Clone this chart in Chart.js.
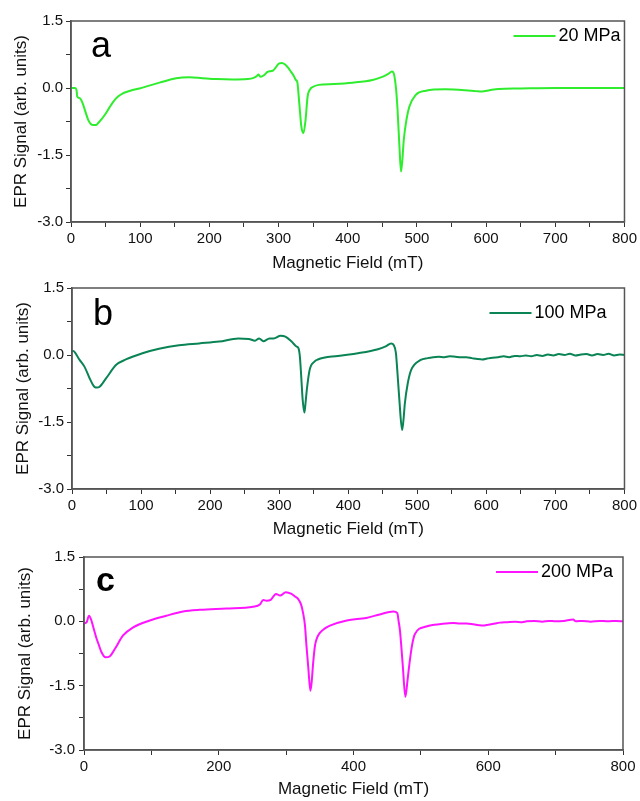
<!DOCTYPE html>
<html>
<head>
<meta charset="utf-8">
<title>EPR spectra</title>
<script src="https://cdn.jsdelivr.net/npm/chart.js@4.4.1/dist/chart.umd.min.js"></script>
<style>
  body { margin: 0; background: #fff; }
  #wrap { position: relative; width: 640px; height: 801px; overflow: hidden; }
  canvas { position: absolute; left: 0; }
</style>
</head>
<body>
<div id="wrap">
  <canvas id="chartA"></canvas>
  <canvas id="chartB"></canvas>
  <canvas id="chartC"></canvas>
</div>
<script>
// Data (field in mT, signal in arb. units)
const fieldA = [0, 6, 8, 9, 13, 17, 20, 25, 29, 32, 36, 39, 44, 49, 55, 61, 68, 75, 80, 88, 99, 128, 152, 171, 190, 210, 233, 255, 263, 268, 271, 274, 280, 284, 292, 301, 305, 309, 314, 318, 322, 325, 327, 330, 333, 336, 339, 342, 346, 349, 358, 380, 407, 436, 450, 458, 464, 467, 470, 472, 475, 477, 479, 481, 485, 489, 498, 513, 541, 570, 585, 594, 605, 618, 647, 700, 750, 800];
const valueA = [0, 0, -0.05, -0.19, -0.23, -0.35, -0.49, -0.72, -0.81, -0.83, -0.83, -0.79, -0.7, -0.6, -0.45, -0.31, -0.19, -0.12, -0.09, -0.05, -0.01, 0.12, 0.22, 0.24, 0.22, 0.2, 0.19, 0.2, 0.22, 0.26, 0.3, 0.25, 0.3, 0.36, 0.39, 0.55, 0.56, 0.53, 0.45, 0.36, 0.27, 0.18, 0.14, -0.35, -0.87, -1.01, -0.72, -0.19, -0.02, 0.02, 0.07, 0.09, 0.12, 0.18, 0.25, 0.31, 0.37, 0.3, -0.05, -0.49, -1.4, -1.87, -1.6, -1.16, -0.7, -0.42, -0.16, -0.06, -0.03, -0.05, -0.07, -0.08, -0.05, -0.02, -0.01, 0, 0, 0];

const fieldB = [0, 3.6, 11, 18, 25.5, 30, 33, 36, 40, 49.5, 64, 78, 102, 126, 155, 184, 213, 241, 256, 265, 271, 277, 286, 292, 302, 309, 318, 325, 328, 330, 332, 334, 336.5, 338, 340, 344, 351, 356, 385, 414, 443, 455, 462, 466, 469, 471, 474, 478, 480, 482, 486, 491, 505, 515, 523, 531, 539, 547, 555, 563, 571, 579, 587, 594, 601, 609, 617, 625, 633, 641, 649, 657, 665, 673, 681, 689, 697, 705, 713, 721, 729, 737, 745, 753, 761, 769, 777, 785, 793, 800];
const valueB = [0.1, 0.07, -0.11, -0.26, -0.52, -0.66, -0.72, -0.73, -0.71, -0.52, -0.22, -0.1, 0.04, 0.14, 0.22, 0.26, 0.3, 0.37, 0.36, 0.32, 0.37, 0.31, 0.37, 0.37, 0.43, 0.41, 0.3, 0.19, 0.15, -0.04, -0.5, -1.0, -1.29, -1.1, -0.78, -0.34, -0.15, -0.1, -0.02, 0.04, 0.13, 0.2, 0.26, 0.22, 0.05, -0.34, -1.0, -1.68, -1.45, -1.08, -0.65, -0.34, -0.11, -0.07, -0.05, -0.04, -0.05, -0.03, -0.04, -0.05, -0.05, -0.07, -0.09, -0.1, -0.08, -0.06, -0.05, -0.03, -0.05, -0.02, -0.03, -0.01, -0.03, 0.0, -0.02, 0.01, -0.01, 0.02, 0.0, 0.03, -0.01, 0.01, 0.02, -0.01, 0.02, 0.0, 0.03, -0.01, 0.01, 0.0];

const fieldC = [0, 4, 7.4, 11, 14, 18, 22, 26, 32, 38, 46, 58, 73, 97.6, 122, 147, 172, 211, 251, 261, 266, 271, 277, 285, 291, 299.5, 308, 313, 318, 322, 325, 328, 330, 333, 336, 338, 340, 343, 346, 350, 357, 365, 390, 419, 439, 459, 465, 467, 469, 473, 477, 480, 483, 487, 491, 508, 520, 530, 538, 548, 558, 568, 578, 586, 592, 600, 610, 617, 628, 640, 650, 657, 668, 680, 690, 700, 712, 726, 730, 740, 752, 765, 778, 790, 800];
const valueC = [-0.05, -0.02, 0.13, 0.02, -0.15, -0.37, -0.55, -0.72, -0.84, -0.82, -0.64, -0.33, -0.14, 0.02, 0.13, 0.23, 0.27, 0.3, 0.34, 0.39, 0.5, 0.48, 0.5, 0.64, 0.6, 0.68, 0.64, 0.58, 0.52, 0.4, 0.21, -0.1, -0.53, -1.1, -1.62, -1.4, -0.99, -0.55, -0.38, -0.27, -0.17, -0.1, 0.02, 0.08, 0.16, 0.23, 0.19, 0.0, -0.22, -1.0, -1.76, -1.4, -0.99, -0.55, -0.3, -0.12, -0.08, -0.06, -0.05, -0.04, -0.05, -0.05, -0.07, -0.09, -0.1, -0.08, -0.05, -0.03, -0.02, -0.01, -0.02, 0, 0.01, -0.01, 0.01, 0.0, 0.01, 0.04, 0.0, 0.01, -0.01, 0.01, 0.0, 0.01, 0.0];

const seriesLabels = ['20 MPa', '100 MPa', '200 MPa'];
const panelLetters = ['a', 'b', 'c'];
const yTicksMajor = [1.5, 0.0, -1.5, -3.0];

const fontFamily = "'Liberation Sans', Arial, sans-serif";

// frame, panel letter and legend
const panelDecor = {
  id: 'panelDecor',
  afterDatasetsDraw(chart, args, opts) {
    const ctx = chart.ctx;
    const a = chart.chartArea;
    ctx.save();
    ctx.strokeStyle = '#555';
    ctx.lineWidth = 1.5;
    ctx.strokeRect(a.left, a.top, a.right - a.left, a.bottom - a.top);

    ctx.fillStyle = '#000';
    ctx.textBaseline = 'alphabetic';
    ctx.font = opts.letterFont;
    ctx.fillText(opts.letter, a.left + opts.letterX, a.top + opts.letterY);

    const ds = chart.data.datasets[0];
    const ly = a.top + opts.legendY;
    const tx = a.right - opts.legendRight;
    ctx.strokeStyle = ds.borderColor;
    ctx.lineWidth = 2;
    ctx.beginPath();
    ctx.moveTo(tx - 45, ly);
    ctx.lineTo(tx - 3, ly);
    ctx.stroke();
    ctx.font = '18px ' + fontFamily;
    ctx.textBaseline = 'middle';
    ctx.fillText(ds.label, tx, ly);
    ctx.restore();
  }
};

function makePanel(p) {
  const canvas = document.getElementById(p.id);
  canvas.width = 640;
  canvas.height = p.height;
  canvas.style.top = p.top + 'px';

  const points = p.fields.map((f, i) => ({ x: f, y: p.values[i] }));

  return new Chart(canvas.getContext('2d'), {
    type: 'line',
    data: {
      datasets: [{
        label: p.label,
        data: points,
        borderColor: p.color,
        borderWidth: 2,
        pointRadius: 0,
        cubicInterpolationMode: 'monotone',
        fill: false
      }]
    },
    options: {
      responsive: false,
      animation: false,
      events: [],
      layout: { padding: { top: p.padTop, right: p.padRight, left: 0, bottom: 0 } },
      plugins: {
        legend: { display: false },
        tooltip: { enabled: false },
        panelDecor: {
          letter: p.letter,
          letterFont: p.letterFont,
          letterX: p.letterX,
          letterY: p.letterY,
          legendRight: p.legendRight,
          legendY: p.legendY
        }
      },
      scales: {
        x: {
          type: 'linear',
          min: 0,
          max: 800,
          afterFit: s => { s.height = p.xHeight; },
          border: { color: '#555', width: 1.5 },
          grid: { drawOnChartArea: false, drawTicks: true, tickLength: 5, tickColor: '#333' },
          ticks: {
            stepSize: p.xStep,
            autoSkip: false,
            maxRotation: 0,
            padding: 3,
            color: '#111',
            font: { family: fontFamily, size: 15 },
            callback: v => (v % p.xLabelEvery === 0 ? String(v) : '')
          },
          title: {
            display: true,
            text: 'Magnetic Field (mT)',
            color: '#111',
            font: { family: fontFamily, size: 17 },
            padding: { top: 0, bottom: p.xTitlePad }
          }
        },
        y: {
          min: -3,
          max: 1.5,
          afterFit: s => { s.width = p.yWidth; },
          border: { color: '#555', width: 1.5 },
          grid: { drawOnChartArea: false, drawTicks: true, tickLength: 5, tickColor: '#333' },
          ticks: {
            stepSize: 0.75,
            padding: p.yTickPad,
            color: '#111',
            font: { family: fontFamily, size: 15 },
            callback: v => (yTicksMajor.some(m => Math.abs(m - v) < 1e-6) ? v.toFixed(1) : '')
          },
          title: {
            display: true,
            text: 'EPR Signal (arb. units)',
            color: '#111',
            font: { family: fontFamily, size: 17 },
            padding: { top: p.yTitlePad, bottom: 0 }
          }
        }
      }
    },
    plugins: [panelDecor]
  });
}

makePanel({
  id: 'chartA', top: 0, height: 276, padTop: 21, padRight: 14, yWidth: 71, xHeight: 54,
  fields: fieldA, values: valueA, label: seriesLabels[0], color: '#2ded2d',
  xStep: 50, xLabelEvery: 100, xTitlePad: 2, yTitlePad: 11, yTickPad: 3,
  letter: panelLetters[0], letterFont: '36px ' + fontFamily, letterX: 20, letterY: 36,
  legendRight: 66, legendY: 15
});

makePanel({
  id: 'chartB', top: 267, height: 275, padTop: 21, padRight: 12, yWidth: 72, xHeight: 53,
  fields: fieldB, values: valueB, label: seriesLabels[1], color: '#0a8455',
  xStep: 50, xLabelEvery: 100, xTitlePad: 2, yTitlePad: 13, yTickPad: 3,
  letter: panelLetters[1], letterFont: '36px ' + fontFamily, letterX: 21, letterY: 37,
  legendRight: 90, legendY: 25
});

makePanel({
  id: 'chartC', top: 534, height: 267, padTop: 23, padRight: 17, yWidth: 84, xHeight: 51,
  fields: fieldC, values: valueC, label: seriesLabels[2], color: '#ff14ff',
  xStep: 100, xLabelEvery: 200, xTitlePad: 1, yTitlePad: 15, yTickPad: 4,
  letter: panelLetters[2], letterFont: 'bold 34px ' + fontFamily, letterX: 12, letterY: 34,
  legendRight: 82, legendY: 15
});
</script>
</body>
</html>
